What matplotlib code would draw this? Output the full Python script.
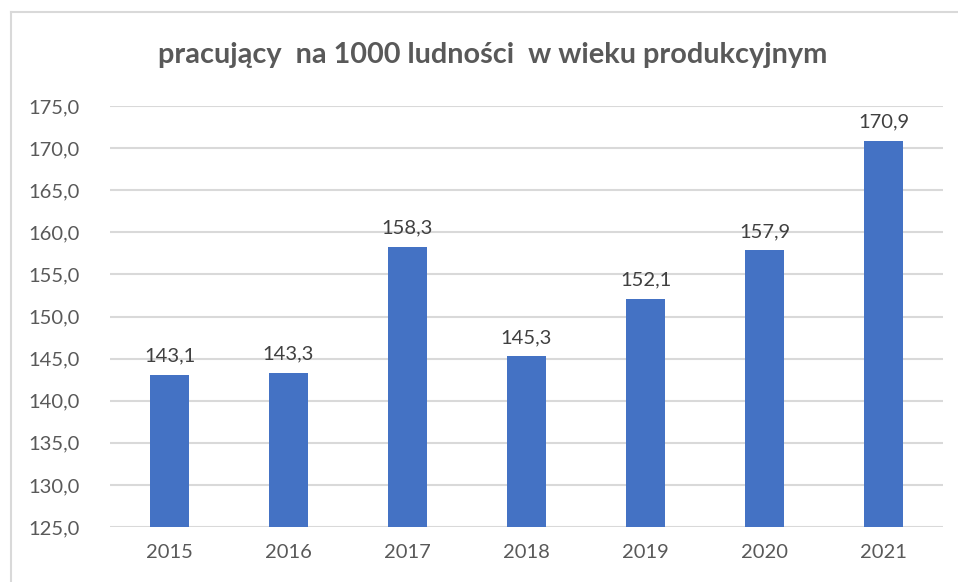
import matplotlib
matplotlib.use("Agg")
import matplotlib.pyplot as plt
from matplotlib.lines import Line2D

# dane
years = ['2015', '2016', '2017', '2018', '2019', '2020', '2021']
values = [143.1, 143.3, 158.3, 145.3, 152.1, 157.9, 170.9]
title = 'pracujący  na 1000 ludności  w wieku produkcyjnym'

plt.rcParams['font.family'] = ['Lato', 'DejaVu Sans']

fig = plt.figure(figsize=(9.58, 5.82), dpi=100)
ax = fig.add_axes([110 / 958, 1 - 527 / 582, 833 / 958, 421 / 582])

x = range(len(years))
ax.bar(x, values, width=0.32, color='#4472C4', zorder=3)

for i, v in enumerate(values):
    ax.text(i, v + 1.2, f'{v:.1f}'.replace('.', ','), ha='center', va='bottom',
            fontsize=14.5, color='#404040')

ax.set_ylim(125, 175)
ax.set_xlim(-0.5, len(years) - 0.5)
ticks = list(range(125, 176, 5))
ax.set_yticks(ticks)
ax.set_yticklabels([f'{t:.1f}'.replace('.', ',') for t in ticks])
ax.set_xticks(list(x))
ax.set_xticklabels(years)
ax.tick_params(axis='both', length=0, labelsize=14.5, labelcolor='#595959')
ax.tick_params(axis='y', pad=22)
ax.tick_params(axis='x', pad=12)
ax.grid(axis='y', color='#D9D9D9', linewidth=1.5, zorder=0)
for s in ax.spines.values():
    s.set_visible(False)

fig.text(493 / 958, 1 - 55 / 582, title, ha='center', va='center',
         fontsize=20.8, fontweight='bold', color='#595959')

# ramka wykresu (widoczna tylko góra i lewa strona)
fig.add_artist(Line2D([11 / 958, 11 / 958], [0, 1 - 12 / 582], transform=fig.transFigure,
                      color='#D9D9D9', linewidth=1.5))
fig.add_artist(Line2D([11 / 958, 1], [1 - 12 / 582, 1 - 12 / 582], transform=fig.transFigure,
                      color='#D9D9D9', linewidth=1.5))

fig.savefig('out.png', dpi=100)
